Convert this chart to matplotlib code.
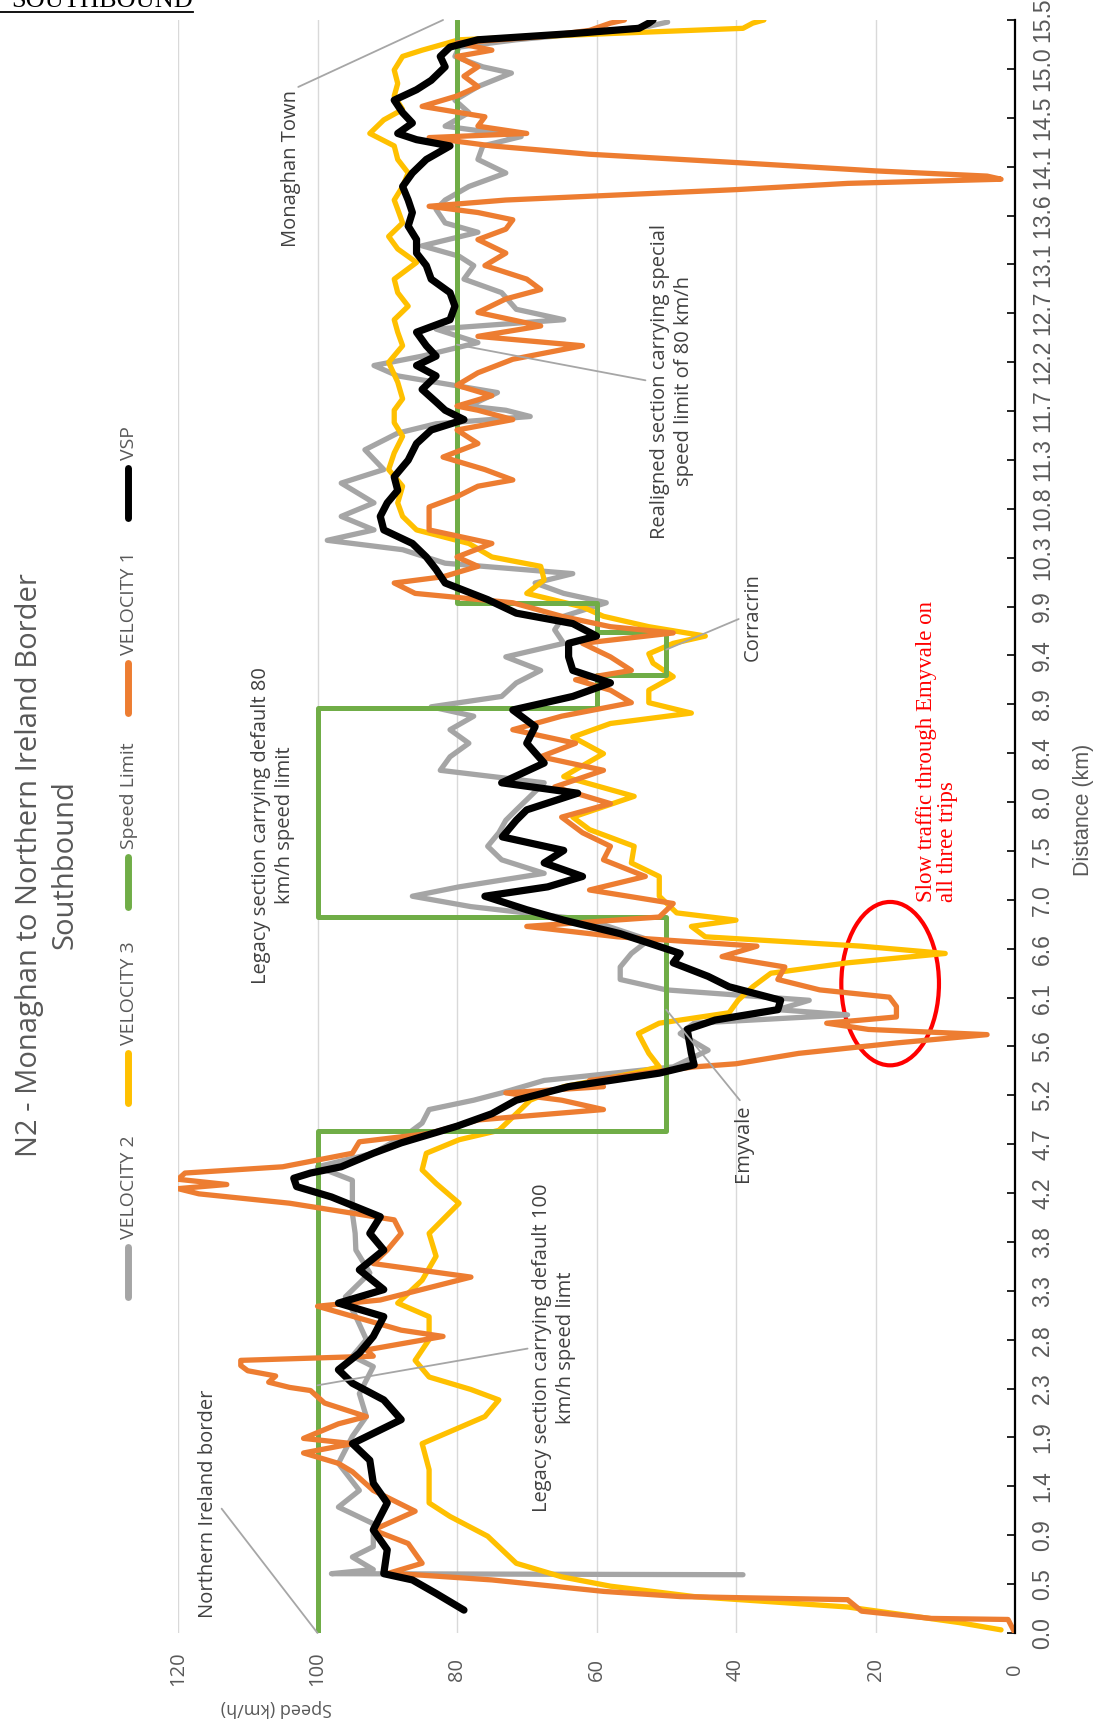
import numpy as np
import matplotlib
matplotlib.use('Agg')
import matplotlib.pyplot as plt
from matplotlib.patches import Ellipse
from matplotlib.lines import Line2D
from matplotlib import font_manager

# speed (km/h) against distance (km)
v1_points = [(0.00, 0), (0.13, 1), (0.14, 12), (0.21, 22), (0.32, 24), (0.35, 48), (0.40, 59), (0.51, 75),
             (0.56, 86), (0.57, 90), (0.67, 85), (0.86, 87), (0.99, 92), (1.17, 86), (1.37, 92), (1.55, 95),
             (1.63, 97), (1.73, 102), (1.82, 95), (1.87, 102), (2.01, 97), (2.08, 93), (2.21, 99), (2.33, 101),
             (2.36, 104), (2.41, 107), (2.47, 106), (2.52, 110), (2.57, 111), (2.62, 111), (2.66, 92), (2.72, 93),
             (2.85, 82), (2.91, 88), (3.14, 100), (3.20, 91), (3.42, 78), (3.55, 92), (3.68, 90), (3.84, 88),
             (3.97, 89), (4.13, 104), (4.22, 117), (4.27, 120), (4.31, 113), (4.36, 120), (4.42, 119), (4.48, 105),
             (4.61, 95), (4.72, 94), (4.80, 84), (4.93, 77), (5.03, 59), (5.12, 65), (5.19, 73), (5.25, 59),
             (5.31, 61), (5.44, 46), (5.47, 40), (5.57, 31), (5.67, 17), (5.75, 4), (5.80, 21), (5.86, 27),
             (5.92, 17), (6.02, 17), (6.11, 18), (6.18, 28), (6.28, 34), (6.40, 33), (6.50, 42), (6.60, 37),
             (6.69, 57), (6.79, 70), (6.88, 51), (7.01, 49), (7.14, 61), (7.27, 53), (7.43, 59), (7.56, 58),
             (7.69, 62), (7.84, 65), (7.97, 58), (8.13, 66), (8.29, 59), (8.42, 68), (8.55, 63), (8.68, 72),
             (8.81, 65), (8.94, 55), (9.06, 58), (9.16, 63), (9.25, 55), (9.38, 58), (9.51, 62), (9.61, 49),
             (9.67, 58), (9.77, 65), (9.90, 72), (9.99, 86), (10.09, 89), (10.15, 82), (10.25, 77), (10.34, 80),
             (10.47, 75), (10.60, 84), (10.70, 84), (10.82, 84), (10.92, 80), (11.02, 77), (11.08, 72), (11.18, 76),
             (11.30, 82), (11.43, 77), (11.56, 80), (11.66, 72), (11.75, 77), (11.79, 80), (11.89, 75), (11.99, 80),
             (12.11, 77), (12.24, 72), (12.37, 62), (12.46, 77), (12.56, 68), (12.69, 77), (12.82, 73), (12.91, 68),
             (13.01, 70), (13.14, 76), (13.26, 73), (13.39, 77), (13.49, 73), (13.58, 72), (13.65, 77), (13.71, 84),
             (13.77, 73), (13.87, 40), (13.93, 24), (13.97, 2), (14.00, 4), (14.05, 20), (14.13, 40), (14.21, 61),
             (14.29, 75), (14.37, 84), (14.41, 70), (14.48, 77), (14.57, 76), (14.67, 85), (14.77, 80), (14.86, 77),
             (14.96, 79), (15.05, 77), (15.15, 80), (15.21, 75), (15.28, 80), (15.34, 68), (15.40, 61), (15.47, 58),
             (15.50, 56)]

v2_points = [(0.56, 39), (0.57, 98), (0.61, 92), (0.73, 95), (0.83, 92), (1.05, 92), (1.21, 97), (1.37, 94),
             (1.63, 97), (1.89, 95), (2.08, 93), (2.30, 94), (2.56, 92), (2.66, 95), (2.82, 93), (3.04, 94.5),
             (3.23, 96), (3.46, 92.5), (3.68, 94.5), (3.84, 94.6), (4.03, 95), (4.35, 95), (4.48, 100), (4.61, 92),
             (4.80, 87), (4.90, 85), (5.03, 84), (5.12, 77.6), (5.19, 73.6), (5.31, 67.5), (5.44, 49), (5.60, 44),
             (5.76, 48), (5.86, 46), (5.94, 24), (5.99, 34), (6.08, 29.5), (6.18, 50), (6.28, 56.6), (6.40, 56.6),
             (6.53, 55), (6.66, 52.5), (6.85, 61), (6.98, 78), (7.08, 86.4), (7.17, 79.7), (7.30, 67.5), (7.43, 73.6),
             (7.56, 75.6), (7.69, 74), (7.81, 73), (7.91, 71.5), (8.17, 67.5), (8.29, 82.4), (8.42, 81), (8.55, 78.3),
             (8.68, 81), (8.81, 77.6), (8.90, 83.7), (9.00, 73.6), (9.13, 71.5), (9.25, 68), (9.38, 73), (9.51, 64.7),
             (9.64, 66), (9.77, 64.7), (9.90, 58.6), (9.99, 64.7), (10.09, 68.8), (10.18, 63.4), (10.28, 81.7),
             (10.41, 87.8), (10.50, 98.6), (10.60, 91.9), (10.73, 96.6), (10.86, 91.9), (11.05, 96.6), (11.18, 90.5),
             (11.37, 93.2), (11.53, 88.5), (11.62, 83), (11.69, 69.5), (11.75, 73), (11.79, 78.3), (11.92, 74.2),
             (12.08, 88.5), (12.18, 91.9), (12.27, 85), (12.40, 77), (12.53, 83), (12.62, 64.7), (12.72, 71.5),
             (12.88, 73.6), (13.01, 79), (13.14, 77.6), (13.23, 79.7), (13.33, 85), (13.46, 77), (13.55, 81.7),
             (13.68, 83), (13.77, 81.7), (13.90, 78.3), (14.03, 73), (14.16, 77), (14.29, 76.3), (14.38, 70.8),
             (14.48, 81.7), (14.61, 78.3), (14.73, 80.3), (14.86, 77), (14.99, 72.2), (15.05, 76.3), (15.15, 80.3),
             (15.24, 79.7), (15.31, 71.5), (15.37, 62), (15.44, 52.5), (15.48, 49.8)]

v3_points = [(0.03, 2), (0.10, 8), (0.25, 24), (0.35, 46), (0.45, 58), (0.54, 65), (0.67, 71.5), (0.93, 75.6),
             (1.12, 81), (1.25, 84), (1.57, 84), (1.82, 85), (2.08, 76), (2.24, 74), (2.34, 78), (2.46, 84),
             (2.62, 86), (2.82, 84), (3.04, 84), (3.17, 88.5), (3.39, 85), (3.62, 83), (3.84, 84), (4.13, 79.7),
             (4.32, 83), (4.45, 85), (4.61, 84.4), (4.74, 79.7), (4.83, 74), (4.99, 71.5), (5.12, 69.5), (5.25, 64.7),
             (5.38, 54.6), (5.44, 51), (5.57, 52.5), (5.76, 54), (5.86, 51), (5.96, 41), (6.08, 39.7), (6.21, 37.6),
             (6.34, 35), (6.44, 24), (6.53, 10), (6.60, 22), (6.69, 44.4), (6.79, 46.4), (6.85, 40), (6.92, 48.5),
             (7.08, 51), (7.27, 51), (7.40, 55), (7.56, 54.6), (7.72, 61), (7.84, 63.4), (8.04, 54.6), (8.23, 64.7),
             (8.45, 59), (8.61, 63.4), (8.74, 58), (8.84, 46.4), (8.94, 52.5), (9.06, 52.5), (9.19, 49), (9.32, 51.9),
             (9.41, 52.5), (9.51, 49), (9.58, 44.4), (9.67, 52.5), (9.77, 59), (9.86, 62), (9.99, 70), (10.12, 67.5),
             (10.25, 68), (10.34, 75), (10.47, 78.3), (10.60, 85.8), (10.73, 87.8), (10.86, 88.5), (11.02, 87.8),
             (11.18, 89.8), (11.34, 89), (11.50, 87.8), (11.63, 89), (11.75, 89), (11.86, 87.8), (12.02, 88.5),
             (12.21, 89.8), (12.37, 87.8), (12.50, 88.5), (12.62, 89), (12.75, 87), (12.88, 88.5), (13.01, 89),
             (13.17, 85.8), (13.30, 88.5), (13.42, 89.8), (13.55, 87.8), (13.68, 88.5), (13.77, 89), (13.90, 87.8),
             (14.03, 87), (14.16, 88.5), (14.29, 89), (14.41, 92.5), (14.54, 90.5), (14.64, 87.8), (14.77, 89),
             (14.89, 88.5), (15.02, 89), (15.15, 87.8), (15.21, 85), (15.31, 79.7), (15.37, 58), (15.42, 39),
             (15.47, 37.6), (15.50, 36)]

vsp_points = [(0.22, 79), (0.38, 83), (0.51, 86.4), (0.57, 90.5), (0.80, 90), (0.99, 92), (1.25, 90), (1.44, 92),
              (1.66, 92.5), (1.82, 95), (2.05, 88), (2.24, 90.5), (2.40, 95), (2.53, 97), (2.69, 94), (2.85, 92),
              (3.04, 90.5), (3.17, 97), (3.30, 90.5), (3.49, 94), (3.68, 90.5), (3.84, 92.5), (4.00, 91), (4.19, 98),
              (4.29, 103), (4.37, 103.4), (4.42, 101), (4.48, 96.6), (4.61, 92), (4.71, 88), (4.87, 80), (4.99, 75),
              (5.12, 71.5), (5.25, 64), (5.38, 51), (5.46, 46), (5.57, 46.4), (5.80, 47), (5.89, 43), (5.99, 34),
              (6.08, 33.6), (6.21, 41), (6.31, 44), (6.44, 49), (6.53, 48), (6.63, 52.5), (6.72, 56.6), (6.85, 64.7),
              (6.95, 70), (7.08, 76), (7.17, 67), (7.27, 62), (7.40, 67.5), (7.52, 64.7), (7.65, 73.5), (7.81, 71.5),
              (7.91, 70), (8.07, 62.7), (8.17, 73.6), (8.36, 67.5), (8.55, 70), (8.71, 68.8), (8.87, 72), (9.00, 63.4),
              (9.13, 58), (9.25, 63.4), (9.38, 64), (9.51, 64), (9.58, 60), (9.70, 63.4), (9.80, 71.5), (9.93, 75.6),
              (10.09, 81.7), (10.22, 83), (10.34, 84.4), (10.47, 86.4), (10.60, 90.5), (10.73, 91), (10.86, 90),
              (10.98, 88.5), (11.11, 89), (11.27, 87), (11.43, 85.8), (11.56, 83.7), (11.66, 79), (11.75, 81.7),
              (11.83, 83), (11.95, 85), (12.08, 83), (12.18, 85.8), (12.27, 83), (12.37, 84.4), (12.50, 85.8),
              (12.62, 81), (12.75, 80.3), (12.88, 81), (13.01, 83.7), (13.14, 84.4), (13.26, 85.8), (13.39, 85.8),
              (13.52, 87), (13.65, 86.4), (13.77, 87), (13.90, 87.8), (14.03, 86.4), (14.16, 84.4), (14.29, 81),
              (14.35, 85.8), (14.41, 88.5), (14.51, 86.4), (14.61, 87.8), (14.73, 89), (14.83, 85.8), (14.92, 83.7),
              (15.05, 81.7), (15.15, 82.4), (15.24, 81), (15.31, 77), (15.37, 63.4), (15.42, 53.9), (15.47, 52.5),
              (15.50, 51.9)]

# speed limit: section start distances and limits
limit_breaks = [0.0, 4.82, 6.88, 8.89, 9.21, 9.62, 9.90, 15.5]
limit_values = [100, 50, 100, 60, 50, 60, 80, 80]

dist_labels = ['0.0', '0.5', '0.9', '1.4', '1.9', '2.3', '2.8', '3.3', '3.8', '4.2', '4.7', '5.2', '5.6',
               '6.1', '6.6', '7.0', '7.5', '8.0', '8.4', '8.9', '9.4', '9.9', '10.3', '10.8', '11.3', '11.7',
               '12.2', '12.7', '13.1', '13.6', '14.1', '14.5', '15.0', '15.5']
speed_ticks = [0, 20, 40, 60, 80, 100, 120]

series = [('VELOCITY 2', v2_points, '#A5A5A5', 3.8),
          ('VELOCITY 3', v3_points, '#FFC000', 3.8),
          ('Speed Limit', None, '#70AD47', 3.6),
          ('VELOCITY 1', v1_points, '#ED7D31', 3.8),
          ('VSP', vsp_points, '#000000', 5.2)]

names = {f.name for f in font_manager.fontManager.ttflist}
narrow = 'Liberation Sans Narrow' if 'Liberation Sans Narrow' in names else 'Liberation Sans'
plt.rcParams['font.family'] = ['Open Sans', 'DejaVu Sans']

W, H = 1102, 1729
fig = plt.figure(figsize=(W / 100, H / 100), dpi=100)
ax = fig.add_axes([178 / W, 1 - 1633 / H, (1015 - 178) / W, (1633 - 20) / H])


def fx(px):
    return px / W


def fy(py):
    return 1 - py / H


for name, pts, color, lw in series:
    if pts is None:
        d = np.repeat(limit_breaks, 2)[1:-1]
        v = np.repeat(limit_values[:-1], 2)
    else:
        d, v = np.array(pts).T
    ax.plot(v, d, color=color, lw=lw, solid_capstyle='round', solid_joinstyle='round')

ax.set_xlim(120, 0)
ax.set_ylim(0, 15.5)
ax.set_xticks(speed_ticks)
ax.set_xticklabels([str(t) for t in speed_ticks])
ax.grid(axis='x', color='#D9D9D9', lw=1.0)
ax.grid(axis='y', visible=False)
ax.set_axisbelow(True)
ax.tick_params(axis='x', length=0, pad=26, labelsize=14.5, labelcolor='#595959', labelrotation=90)
for lab in ax.get_xticklabels():
    lab.set_va('center')

ax.yaxis.tick_right()
ax.set_yticks(np.linspace(0, 15.5, len(dist_labels)))
ax.set_yticklabels(dist_labels, family=narrow)
ax.tick_params(axis='y', direction='in', length=6, width=1.2, color='#000000', pad=20,
               labelsize=16.5, labelcolor='#595959', labelrotation=90)
for lab in ax.get_yticklabels():
    lab.set_ha('center')
    lab.set_va('center')

for side in ['left', 'top', 'bottom']:
    ax.spines[side].set_visible(False)
ax.spines['right'].set_color('#000000')
ax.spines['right'].set_linewidth(1.6)

fig.text(fx(1083), fy(810), 'Distance (km)', rotation=90, ha='center', va='center',
         fontsize=15.5, color='#595959', family=narrow)
fig.text(fx(276), fy(1708), 'Speed (km/h)', rotation=180, ha='center', va='center',
         fontsize=13, color='#595959')

fig.text(fx(47), fy(865), 'N2 - Monaghan to Northern Ireland Border\nSouthbound', rotation=90,
         ha='center', va='center', multialignment='center', fontsize=21, color='#595959', linespacing=1.3)

# legend drawn by hand, rotated like the rest of the chart
legend_start = [1297, 1103, 907, 713, 518]
for (name, pts, color, lw), y0 in zip(series, legend_start):
    fig.add_artist(Line2D([fx(128), fx(128)], [fy(y0), fy(y0 - 50)], color=color, lw=5,
                          solid_capstyle='round'))
    fig.text(fx(129), fy(y0 - 58), name, rotation=90, ha='center', va='bottom',
             fontsize=14, color='#595959')

# callouts: text, text position, leader target, leader start on text box
callouts = [('Monaghan Town', (103.8, 14.07), (82, 15.5), (0.5, 1.0)),
            ('Northern Ireland border', (115.7, 1.24), (100, 0.0), (1.0, 0.5)),
            ('Legacy section carrying default 80\nkm/h speed limit', (106.4, 7.76), None, None),
            ('Legacy section carrying default 100\nkm/h speed limt', (66.1, 2.74), (100, 2.38), (0.0, 0.5)),
            ('Realigned section carrying special\nspeed limit of 80 km/h', (49.2, 12.03), (80, 12.38), (0.0, 0.5)),
            ('Corracrin', (37.6, 9.76), (50, 9.45), (0.0, 0.5)),
            ('Emyvale', (39.0, 4.71), (50, 5.99), (0.5, 1.0))]
for text, pos, target, rel in callouts:
    if target is None:
        ax.text(pos[0], pos[1], text, rotation=90, ha='center', va='center', multialignment='center',
                fontsize=14.5, color='#404040', linespacing=1.3)
    else:
        ax.annotate(text, xy=target, xytext=pos, rotation=90, ha='center', va='center',
                    multialignment='center', fontsize=14.5, color='#404040', linespacing=1.3,
                    arrowprops=dict(arrowstyle='-', color='#A6A6A6', lw=1.3, relpos=rel,
                                    shrinkA=1, shrinkB=0))

ax.add_patch(Ellipse((17.9, 6.24), 14, 1.57, fill=False, ec='#FF0000', lw=3))
ax.text(11.2, 7.02, 'Slow traffic through Emyvale on\nall three trips', rotation=90, ha='center', va='bottom',
        multialignment='left', fontsize=16.5, color='#FF0000', family='Liberation Serif', linespacing=1.0)

fig.text(fx(193), fy(7), 'SOUTHBOUND', ha='right', va='baseline', fontsize=19, family='Liberation Serif')
fig.add_artist(Line2D([0, fx(193)], [fy(11.5), fy(11.5)], color='#000000', lw=1.3))

fig.savefig('out.png', dpi=100)
